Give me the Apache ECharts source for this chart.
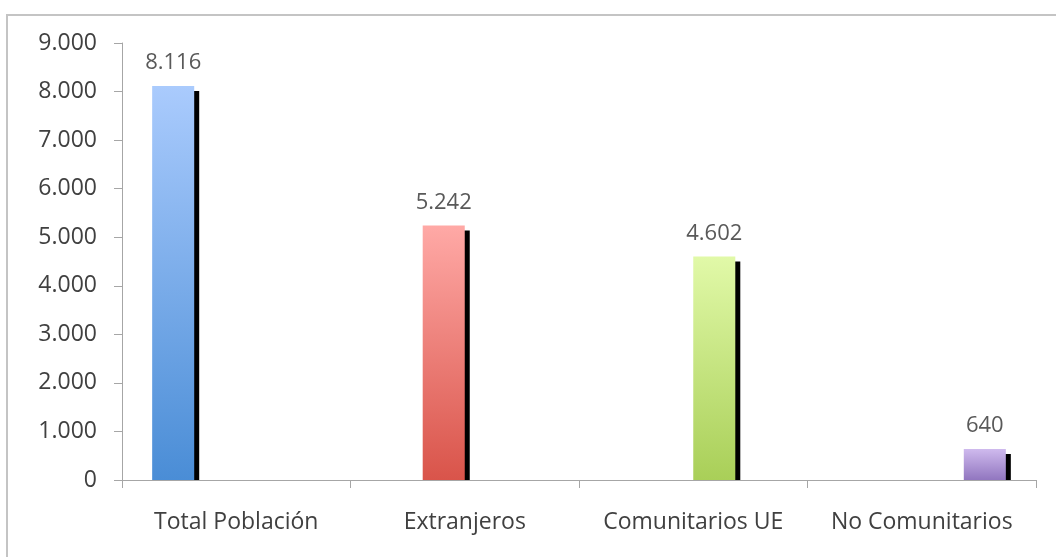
<!DOCTYPE html>
<html>
<head>
<meta charset="utf-8">
<script src="https://cdn.jsdelivr.net/npm/echarts@6/dist/echarts.min.js"></script>
<style>
html, body { margin: 0; padding: 0; background: #fff; }
#main { width: 1056px; height: 557px; }
</style>
</head>
<body>
<div id="main"></div>
<script>
    // datos
    let categories = ['Total Población', 'Extranjeros', 'Comunitarios UE', 'No Comunitarios'];
    let values = [8116, 5242, 4602, 640];
    let yTicks = [0, 1000, 2000, 3000, 4000, 5000, 6000, 7000, 8000, 9000];

    // degradado de cada barra (arriba, abajo)
    let colors = [
        ['#aacbfd', '#4a8dd6'],
        ['#ffa9a6', '#d9544a'],
        ['#e1f9a8', '#a9cf58'],
        ['#cfbaee', '#9176bf']
    ];

    function fmt(v) {
        return String(v).replace(/\B(?=(\d{3})+(?!\d))/g, '.');
    }

    let chart = echarts.init(document.getElementById('main'));

    // cada serie tiene un solo valor, como en el grafico agrupado de Excel
    let series = categories.map((name, i) => ({
        name: name,
        type: 'custom',
        data: [[i, values[i]]],
        renderItem: function (params, api) {
            let cat = api.value(0);
            let val = api.value(1);
            let top = api.coord([cat, val]);
            let base = api.coord([cat, 0]);
            let bw = api.size([1, 0])[0];
            let barW = bw * 0.184;
            let x = top[0] - barW * 2 + i * barW;
            let h = base[1] - top[1];
            return {
                type: 'group',
                children: [
                    {
                        type: 'rect',
                        shape: { x: x + 5, y: top[1] + 5, width: barW, height: Math.max(h - 5, 0) },
                        style: { fill: '#000' }
                    },
                    {
                        type: 'rect',
                        shape: { x: x, y: top[1], width: barW, height: h },
                        style: {
                            fill: new echarts.graphic.LinearGradient(0, 0, 0, 1, [
                                { offset: 0, color: colors[i][0] },
                                { offset: 1, color: colors[i][1] }
                            ])
                        }
                    },
                    {
                        type: 'text',
                        x: x + barW / 2,
                        y: top[1] - 12,
                        style: {
                            text: fmt(val),
                            fill: '#595959',
                            font: '22px "Open Sans"',
                            align: 'center',
                            verticalAlign: 'bottom'
                        }
                    }
                ]
            };
        }
    }));

    let option = {
        animation: false,
        textStyle: { fontFamily: 'Open Sans' },
        grid: { left: 122, right: 20, top: 43, bottom: 77 },
        graphic: [{
            type: 'rect',
            shape: { x: 7, y: 15, width: 1100, height: 600 },
            style: { fill: 'none', stroke: '#c4c4c4', lineWidth: 2 }
        }],
        xAxis: {
            type: 'category',
            data: categories,
            axisLine: { lineStyle: { color: '#a6a6a6', width: 1 } },
            axisTick: { show: true, interval: 0, length: 8, lineStyle: { color: '#a6a6a6' } },
            axisLabel: { color: '#404040', fontSize: 23, margin: 31, interval: 0, hideOverlap: false }
        },
        yAxis: {
            type: 'value',
            min: yTicks[0],
            max: yTicks[yTicks.length - 1],
            interval: 1000,
            splitLine: { show: false },
            axisLine: { show: true, lineStyle: { color: '#a6a6a6', width: 1 } },
            axisTick: { show: true, length: 8, lineStyle: { color: '#a6a6a6' } },
            axisLabel: { color: '#404040', fontSize: 23, margin: 25, formatter: fmt }
        },
        series: series
    };

    chart.setOption(option);
</script>
</body>
</html>
